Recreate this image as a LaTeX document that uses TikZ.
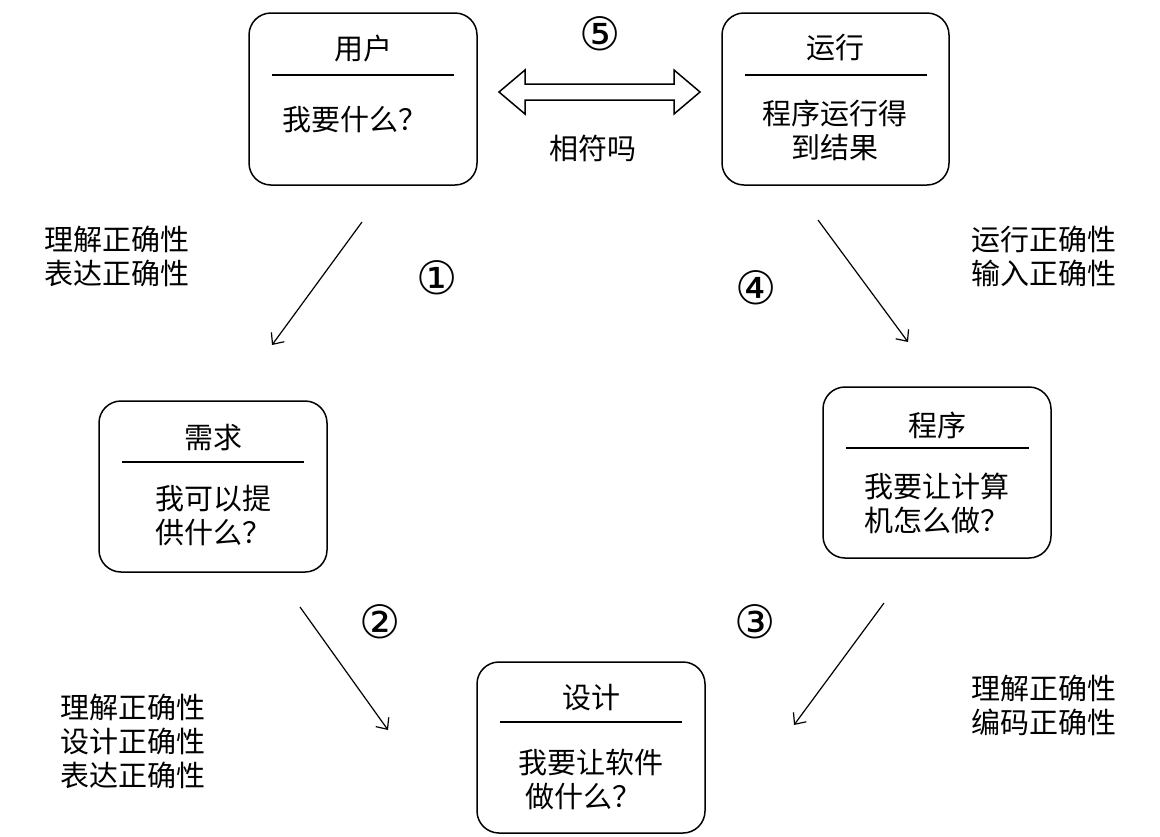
\documentclass[tikz,border=0pt]{standalone}
\usepackage{fontspec}
\usetikzlibrary{arrows.meta}
\newfontfamily\cjk{Noto Sans CJK SC}
\newfontfamily\djv{DejaVu Sans}
\begin{document}
\begin{tikzpicture}[x=1pt,y=-1pt,
  box/.style={draw,line width=1.5pt,rounded corners=22pt},
  txt/.style={font=\cjk\fontsize{29}{34}\selectfont,inner sep=0pt},
  num/.style={font=\djv\fontsize{46}{48}\selectfont,inner sep=0pt},
  arr/.style={line width=1.2pt,-{Straight Barb[length=9pt,width=16pt]}}]
\useasboundingbox (0,0) rectangle (1160,836);
\draw[box] (249,13) rectangle (477,185);
\draw[line width=1.2pt] (272,75) -- (454,75);
\node[txt] (u1) at (363,48) {用户};
\node[txt] (u2) at (355,120) {我要什么？};
\draw[box] (722,13) rectangle (949,185);
\draw[line width=1.2pt] (745,75) -- (927,75);
\node[txt] (r1) at (835,48) {运行};
\node[txt,align=center] (r2) at (835,130) {程序运行得\\到结果};
\draw[box] (99,401) rectangle (327,572);
\draw[line width=1.2pt] (122,462) -- (304,462);
\node[txt] (x1) at (213,438) {需求};
\node[txt,align=left] (x2) at (213,515) {我可以提\\供什么？};
\draw[box] (823,387) rectangle (1051,558);
\draw[line width=1.2pt] (846,448) -- (1029,448);
\node[txt] (c1) at (937,425) {程序};
\node[txt,align=left] (c2) at (937,503) {我要让计算\\机怎么做？};
\draw[box] (477,662) rectangle (705,833);
\draw[line width=1.2pt] (500,722) -- (682,722);
\node[txt] (s1) at (591,698) {设计};
\node[txt,align=left] (s2) at (591,779) {我要让软件\\\ 做什么？};
\coordinate (a1) at (362,222); \coordinate (b1) at (272,345);
\coordinate (a2) at (300,607); \coordinate (b2) at (388,730);
\coordinate (a3) at (884,603); \coordinate (b3) at (794,725);
\coordinate (a4) at (818,220); \coordinate (b4) at (908,342);
\draw[arr] (a1) -- (b1);
\draw[arr] (a2) -- (b2);
\draw[arr] (a3) -- (b3);
\draw[arr] (a4) -- (b4);
\draw[line width=1.5pt,line join=miter] (499,92) -- (525,70) -- (525,84) -- (674,84) -- (674,70) -- (700,92) -- (674,114) -- (674,100) -- (525,100) -- (525,114) -- cycle;
\node[num] (n1) at (437,278) {①};
\node[num] (n2) at (380,622) {②};
\node[num] (n3) at (755,622) {③};
\node[num] (n4) at (756,288) {④};
\node[num] (n5) at (600,34) {⑤};
\node[txt] (m) at (593,148) {相符吗};
\node[txt,align=left,anchor=west] (l1) at (44,256) {理解正确性\\表达正确性};
\node[txt,align=left,anchor=west] (l2) at (971,256) {运行正确性\\输入正确性};
\node[txt,align=left,anchor=west] (l3) at (60,741) {理解正确性\\设计正确性\\表达正确性};
\node[txt,align=left,anchor=west] (l4) at (971,705) {理解正确性\\编码正确性};
\end{tikzpicture}
\end{document}
